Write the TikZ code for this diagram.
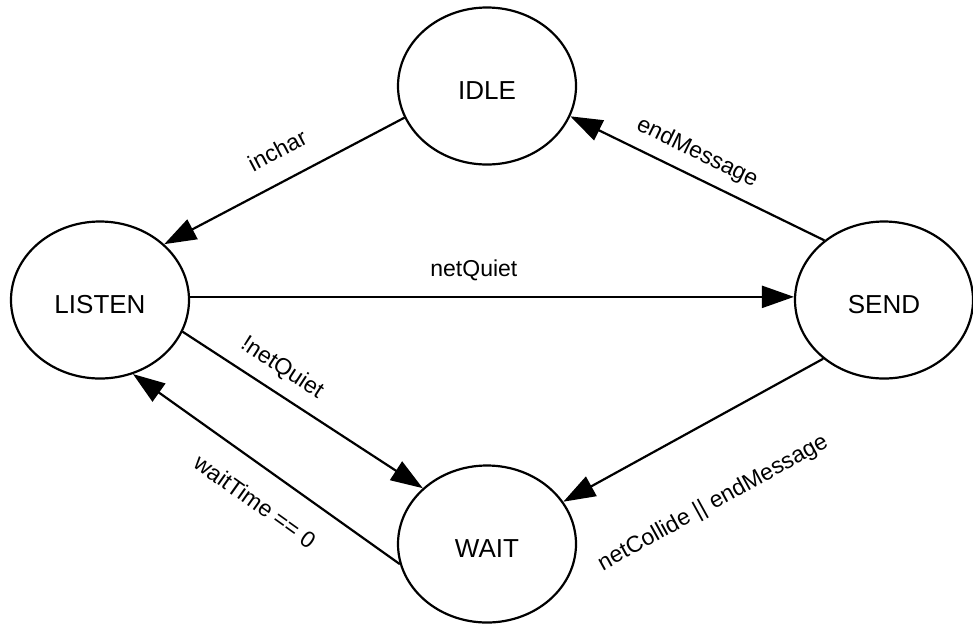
\documentclass[tikz,border=0pt]{standalone}
\usepackage{fontspec}
\setmainfont{Liberation Sans}
\usetikzlibrary{shapes.geometric,arrows.meta}

\begin{document}
\begin{tikzpicture}[x=1pt,y=-1pt,
  state/.style={ellipse, draw, line width=2.2pt, minimum width=178pt, minimum height=157pt, inner sep=0pt, text height=27pt, text depth=0pt, font=\fontsize{26}{30}\selectfont},
  trans/.style={line width=2.2pt, -{Triangle[length=32pt,width=22pt]}},
  lbl/.style={sloped, inner sep=0pt, font=\fontsize{23}{27}\selectfont}]
\useasboundingbox (0,0) rectangle (973,625);

%Define states
\node[state] (idle) at (487,86) {IDLE};
\node[state] (listen) at (100,300) {LISTEN};
\node[state] (send) at (884,300) {SEND};
\node[state] (wait) at (487,544) {WAIT};


%Transitions and their labels.
\draw[trans] (idle.201) -- node[lbl, pos=0.47, above=21pt]{inchar} (listen.41);
\draw[trans] (send.135) -- node[lbl, pos=0.54, above=11pt]{endMessage} (idle.340);
\draw[trans] (listen.2) -- node[lbl, pos=0.47, above=15pt]{netQuiet} (send.178);
\draw[trans] (listen.339) -- node[lbl, pos=0.36, above=12pt]{!netQuiet} (wait.139);
\draw[trans] (wait.193) -- node[lbl, pos=0.47, below=23pt]{waitTime == 0} (listen.294);
\draw[trans] (send.224) -- node[lbl, pos=0.56, below=62pt]{netCollide || endMessage} (wait.29);

\end{tikzpicture}
\end{document}
